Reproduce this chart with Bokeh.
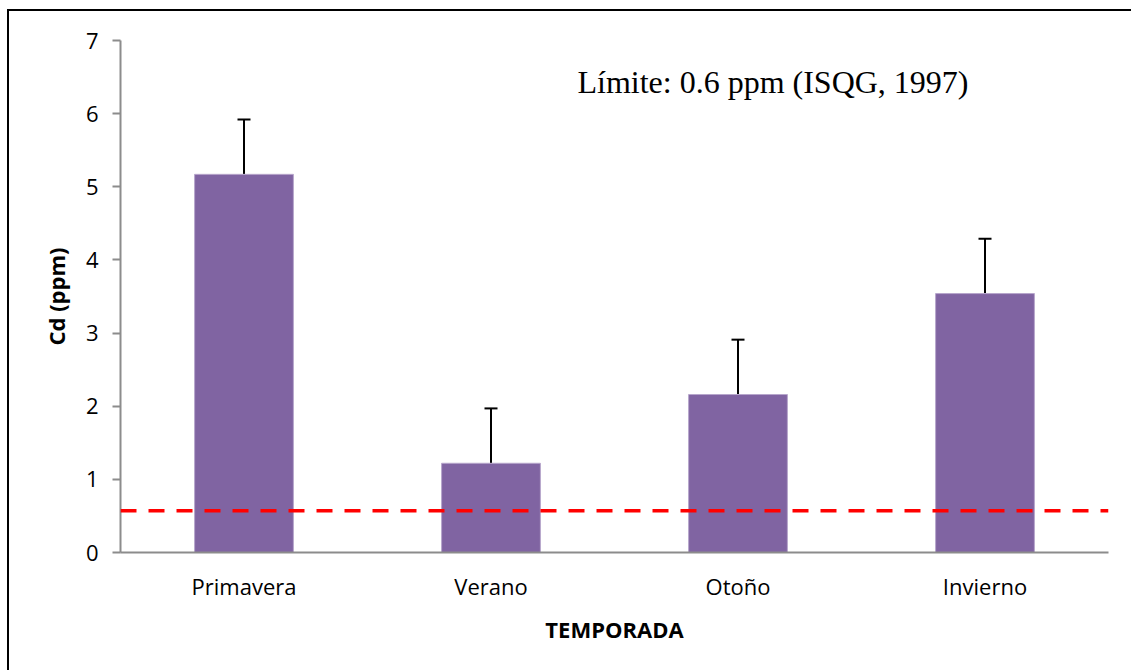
from bokeh.plotting import figure
from bokeh.models import (ColumnDataSource, FactorRange, Range1d, FixedTicker,
                          Whisker, TeeHead, Span, Label)
from bokeh.embed import file_html
from bokeh.resources import INLINE

seasons = ["Primavera", "Verano", "Otoño", "Invierno"]
cd_ppm = [5.17, 1.22, 2.16, 3.54]
cd_err = [0.75, 0.75, 0.75, 0.75]
limit_ppm = 0.57
y_ticks = [0, 1, 2, 3, 4, 5, 6, 7]

source = ColumnDataSource(dict(
    x=seasons,
    top=cd_ppm,
    upper=[v + e for v, e in zip(cd_ppm, cd_err)],
))

p = figure(width=1131, height=670, output_backend="svg", toolbar_location=None,
           x_range=FactorRange(*seasons, range_padding=0),
           y_range=Range1d(0, 7),
           min_border_left=120, min_border_right=23,
           min_border_top=40, min_border_bottom=118)
p.outline_line_color = None
p.xgrid.grid_line_color = None
p.ygrid.grid_line_color = None
p.background_fill_color = "white"
p.border_fill_color = "white"

p.vbar(x="x", top="top", width=0.4, source=source,
       fill_color="#8064A2", line_color="#B7A6CC", line_width=1)

w = Whisker(source=source, base="x", lower="top", upper="upper",
            dimension="height", line_color="black", line_width=2,
            lower_head=None,
            upper_head=TeeHead(size=13, line_color="black", line_width=2))
p.add_layout(w)

p.add_layout(Span(location=limit_ppm, dimension="width", line_color="#FF0000",
                  line_width=3.5, line_dash="16 12"))

p.add_layout(Label(x=1.85, y=6.43, text="Límite: 0.6 ppm (ISQG, 1997)",
                   text_font="Liberation Serif", text_font_size="32px",
                   text_color="black", text_baseline="alphabetic"))

axis_color = "#8C8C8C"
p.yaxis.ticker = FixedTicker(ticks=y_ticks)
p.yaxis.minor_tick_line_color = None
p.yaxis.major_tick_in = 0
p.yaxis.major_tick_out = 8
p.yaxis.major_label_standoff = 14
p.yaxis.axis_line_color = axis_color
p.yaxis.axis_line_width = 2
p.yaxis.major_tick_line_color = axis_color
p.yaxis.major_tick_line_width = 2
p.yaxis.major_label_text_font = "Open Sans"
p.yaxis.major_label_text_font_size = "22px"
p.yaxis.major_label_text_color = "black"
p.yaxis.axis_label = "Cd (ppm)"
p.yaxis.axis_label_text_font = "Open Sans"
p.yaxis.axis_label_text_font_style = "bold"
p.yaxis.axis_label_text_font_size = "22px"
p.yaxis.axis_label_text_color = "black"
p.yaxis.axis_label_standoff = 12

p.xaxis.major_tick_in = 0
p.xaxis.major_tick_out = 0
p.xaxis.minor_tick_line_color = None
p.xaxis.major_tick_line_color = None
p.xaxis.axis_line_color = axis_color
p.xaxis.axis_line_width = 2
p.xaxis.major_label_standoff = 18
p.xaxis.major_label_text_font = "Open Sans"
p.xaxis.major_label_text_font_size = "22px"
p.xaxis.major_label_text_color = "black"
p.xaxis.axis_label = "TEMPORADA"
p.xaxis.axis_label_text_font = "Open Sans"
p.xaxis.axis_label_text_font_style = "bold"
p.xaxis.axis_label_text_font_size = "22px"
p.xaxis.axis_label_text_color = "black"
p.xaxis.axis_label_standoff = 10

html = file_html(p, INLINE)
frame_div = ('<div style="position:fixed;left:7px;top:9px;width:1124px;height:661px;'
             'box-sizing:border-box;border-left:2px solid black;border-top:2px solid black;'
             'pointer-events:none;z-index:10;"></div>')
html = html.replace("</body>", frame_div + "</body>")
html = html.replace("<body>", '<body style="margin:0;overflow:hidden;">', 1)
open("out.html", "w").write(html)
